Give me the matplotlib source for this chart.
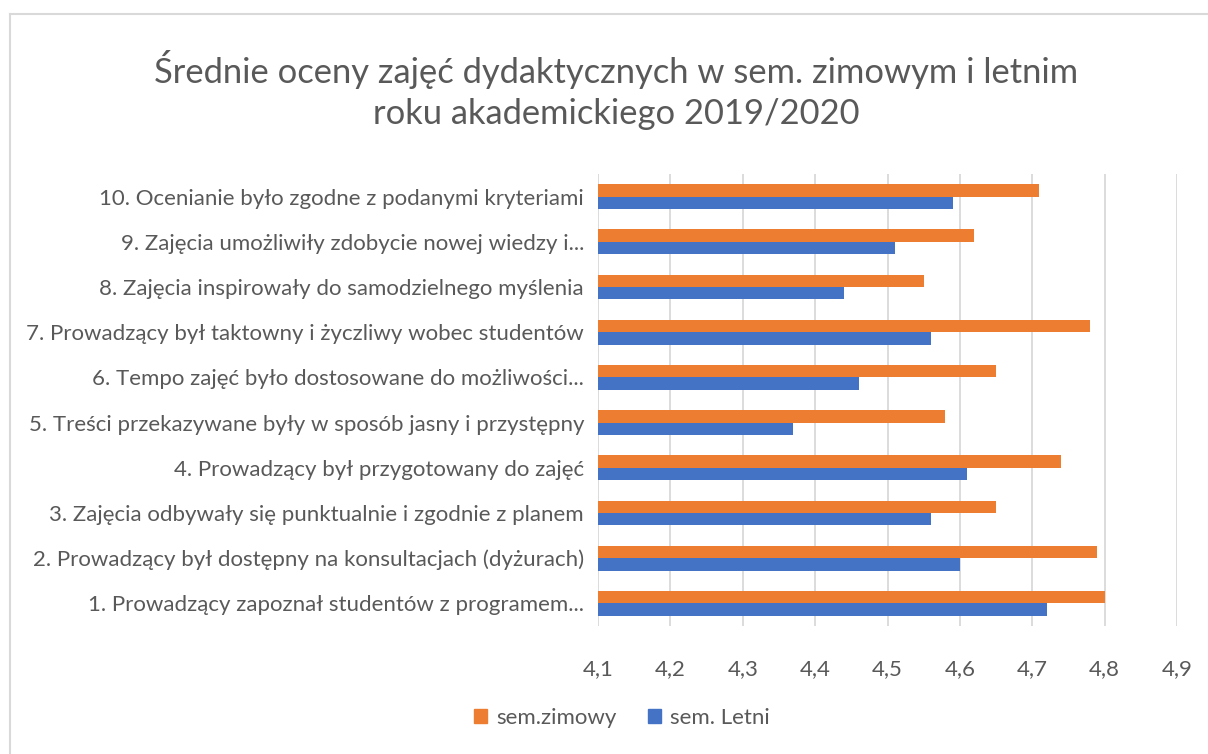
import numpy as np
import matplotlib.pyplot as plt
from matplotlib.lines import Line2D
from matplotlib.patches import Patch

# questions, from 1 (bottom) to 10 (top)
categories = [
    "1. Prowadzący zapoznał studentów z programem...",
    "2. Prowadzący był dostępny na konsultacjach (dyżurach)",
    "3. Zajęcia odbywały się punktualnie i zgodnie z planem",
    "4. Prowadzący był przygotowany do zajęć",
    "5. Treści przekazywane były w sposób jasny i przystępny",
    "6. Tempo zajęć było dostosowane do możliwości...",
    "7. Prowadzący był taktowny i życzliwy wobec studentów",
    "8. Zajęcia inspirowały do samodzielnego myślenia",
    "9. Zajęcia umożliwiły zdobycie nowej wiedzy i...",
    "10. Ocenianie było zgodne z podanymi kryteriami",
]
zimowy = [4.80, 4.79, 4.65, 4.74, 4.58, 4.65, 4.78, 4.55, 4.62, 4.71]
letni = [4.72, 4.60, 4.56, 4.61, 4.37, 4.46, 4.56, 4.44, 4.51, 4.59]
ticks = [4.1, 4.2, 4.3, 4.4, 4.5, 4.6, 4.7, 4.8, 4.9]
tick_labels = ["4,1", "4,2", "4,3", "4,4", "4,5", "4,6", "4,7", "4,8", "4,9"]

ORANGE = "#ED7D31"
BLUE = "#4472C4"
TEXT = "#595959"
GRID = "#D9D9D9"

plt.rcParams["font.family"] = ["Lato", "DejaVu Sans"]

W, H = 1208, 754
fig = plt.figure(figsize=(W / 100, H / 100), dpi=100)

# chart frame (light grey border)
fig.add_artist(Line2D([10 / W, 1], [1 - 14 / H, 1 - 14 / H], color=GRID, lw=1.5))
fig.add_artist(Line2D([10 / W, 10 / W], [0, 1 - 14 / H], color=GRID, lw=1.5))

ax = fig.add_axes([598 / W, 1 - 626 / H, (1177 - 598) / W, (626 - 174) / H])

y = np.arange(len(categories))
h = 0.275
ax.barh(y + h / 2, np.array(zimowy) - 4.1, left=4.1, height=h, color=ORANGE,
        label="sem.zimowy", zorder=3)
ax.barh(y - h / 2, np.array(letni) - 4.1, left=4.1, height=h, color=BLUE,
        label="sem. Letni", zorder=3)

ax.set_xlim(4.1, 4.9)
ax.set_ylim(-0.5, len(categories) - 0.5)
ax.set_xticks(ticks)
ax.set_xticklabels(tick_labels, fontsize=16, color=TEXT)
ax.set_yticks(y)
ax.set_yticklabels(categories, fontsize=16, color=TEXT)
ax.tick_params(axis="x", length=0, pad=24)
ax.tick_params(axis="y", length=0, pad=10)
ax.grid(axis="x", color=GRID, lw=1.3, zorder=0)
for s in ax.spines.values():
    s.set_visible(False)

fig.text(616 / W, 1 - 90 / H,
         "Średnie oceny zajęć dydaktycznych w sem. zimowym i letnim\nroku akademickiego 2019/2020",
         ha="center", va="center", fontsize=24.8, color=TEXT, linespacing=1.35)

handles = [Patch(color=ORANGE, label="sem.zimowy"), Patch(color=BLUE, label="sem. Letni")]
fig.legend(handles=handles, loc="center", bbox_to_anchor=(622 / W, 1 - 718 / H), ncol=2,
           frameon=False, fontsize=16, labelcolor=TEXT, handlelength=0.6, handleheight=0.6,
           handletextpad=0.4, columnspacing=1.4)

fig.savefig("out.png", dpi=100)
